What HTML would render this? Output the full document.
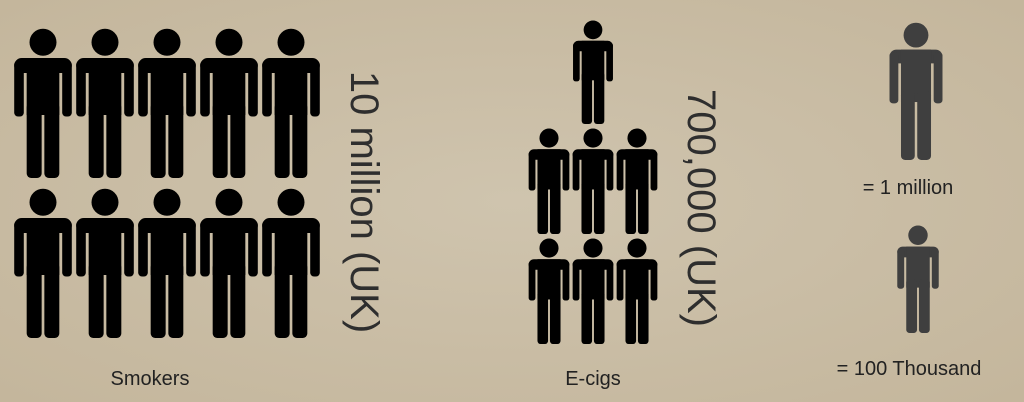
<!DOCTYPE html>
<html><head><meta charset="utf-8"><style>
body{margin:0;width:1024px;height:402px;overflow:hidden;background:#c8bba3;}
svg{display:block}
text{font-family:"Comic Sans MS","Liberation Sans",sans-serif;}
</style></head><body>
<svg id="chart" width="1024" height="402" viewBox="0 0 1024 402">
<defs>
<radialGradient id="bg" cx="50%" cy="50%" r="70%"><stop offset="0" stop-color="#cfc4ae"/><stop offset="1" stop-color="#c4b69c"/></radialGradient>
</defs>
<rect width="1024" height="402" fill="url(#bg)"/>
<g id="figs"></g>
<text transform="translate(351,202) rotate(90)" text-anchor="middle" font-size="40" fill="#2e2e2e">10 million (UK)</text>
<text transform="translate(688,208) rotate(90)" text-anchor="middle" font-size="40" fill="#2e2e2e">700,000 (UK)</text>
<text x="150" y="385" text-anchor="middle" font-size="20" fill="#222">Smokers</text>
<text x="593" y="385" text-anchor="middle" font-size="20" fill="#222">E-cigs</text>
<text x="908" y="194" text-anchor="middle" font-size="20" fill="#222">= 1 million</text>
<text x="909" y="375" text-anchor="middle" font-size="20" fill="#222">= 100 Thousand</text>
</svg>
<script>
const groups=["smokers","ecigs"];
const counts=[10,7];
const unitValues=["1 million","100 thousand"];
const NS="http://www.w3.org/2000/svg";
const g=document.getElementById("figs");
const SX=1.28;
function person(cx,top,h,fill,name){
  const s=h/100, w=g.appendChild(document.createElementNS(NS,"g"));
  
  
  w.setAttribute("transform",`translate(${cx},${top}) scale(${s*SX},${s})`);
  w.setAttribute("fill",fill);
  const c=document.createElementNS(NS,"ellipse");
  c.setAttribute("cx",0);c.setAttribute("cy",9.5);c.setAttribute("rx",9/SX);c.setAttribute("ry",9);w.appendChild(c);
  const rects=[[-15,20,30,10,5],[-15,22,5,37,2.5],[10,22,5,37,2.5],[-8.5,20,17,38,0],[-8.5,50,7.8,50,3],[0.7,50,7.8,50,3]];
  rects.forEach(r=>{const e=document.createElementNS(NS,"rect");
    e.setAttribute("x",r[0]);e.setAttribute("y",r[1]);e.setAttribute("width",r[2]);e.setAttribute("height",r[3]);e.setAttribute("rx",r[4]/SX);e.setAttribute("ry",r[4]);w.appendChild(e);});
}
for(let i=0;i<counts[0];i++){
  const col=i%5,row=Math.floor(i/5);
  person(43+col*62,28+row*160,150,"#000","smoker-figure");
}
for(let i=0;i<counts[1];i++){
  if(i===0){person(593,20,104,"#000","ecig-figure");continue;}
  const k=i-1,col=k%3,row=Math.floor(k/3);
  person(549+col*44,128+row*110,106,"#000","ecig-figure");
}
person(916,22,138,"#3f3f3f","legend-million-figure");
person(918,225,108,"#3f3f3f","legend-thousand-figure");
</script>
</body></html>
